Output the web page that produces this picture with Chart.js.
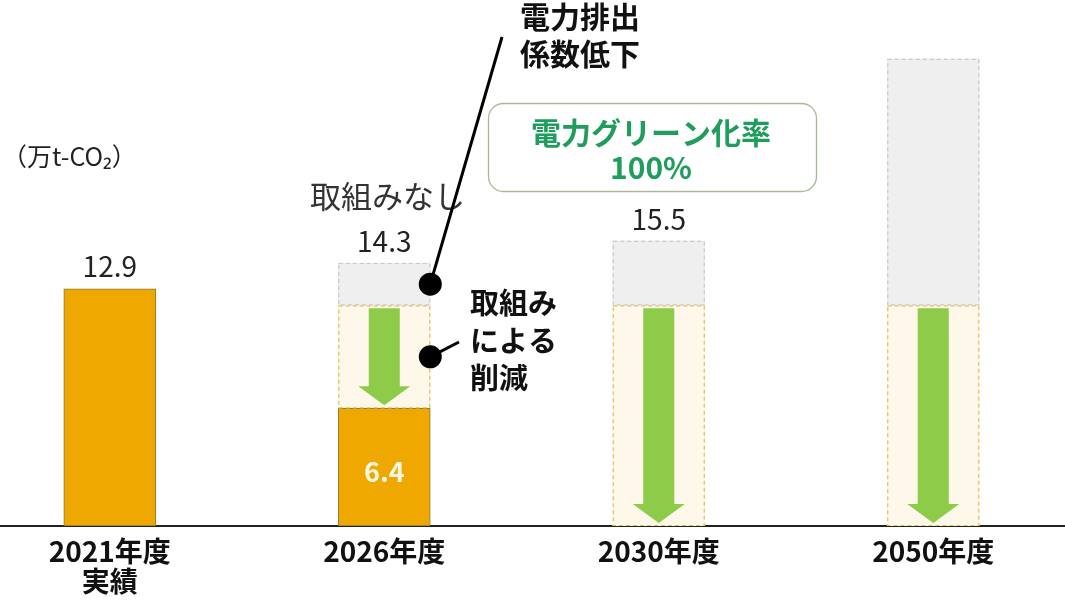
<!DOCTYPE html>
<html lang="ja">
<head>
<meta charset="utf-8">
<title>CO2排出量</title>
<script src="https://cdn.jsdelivr.net/npm/chart.js@4.4.1/dist/chart.umd.min.js"></script>
<style>
  html, body { margin: 0; padding: 0; background: #fff; }
  #wrap { width: 1065px; height: 608px; position: relative; }
</style>
</head>
<body>
<div id="wrap"><canvas id="co2Chart"></canvas></div>
<script>
// ─── Data ──────────────────────────────────────────────────────────────────────
const categoryLabels = [["2021年度", "実績"], "2026年度", "2030年度", "2050年度"];
const actualValues   = [12.9, 6.4, null, null];     // 実績・見込み (orange)
const reductionFrom  = [null, 6.4, 0, 0];           // 取組みによる削減 (dashed box)
const reductionTo    = [null, 12.0, 12.0, 12.0];
const noActionTotal  = [null, 14.3, 15.5, 25.4];    // 取組みなし (grey)
const topLabels      = ["12.9", "14.3", "15.5", ""];
const insideLabels   = ["", "6.4", "", ""];

const FONT = "'Noto Sans CJK JP', 'Noto Sans', sans-serif";

function floating(fromArr, toArr) {
  return toArr.map((v, i) => v == null ? null : { x: i, y: [fromArr[i], v] }).filter(Boolean);
}

// ─── Plugins ───────────────────────────────────────────────────────────────────
const dashedBorders = {
  id: "dashedBorders",
  afterDatasetsDraw(chart) {
    const ctx = chart.ctx;
    chart.data.datasets.forEach((ds, di) => {
      if (!ds.dashColor) return;
      chart.getDatasetMeta(di).data.forEach(bar => {
        const { x, y, base, width } = bar.getProps(["x", "y", "base", "width"], true);
        ctx.save();
        ctx.strokeStyle = ds.dashColor;
        ctx.lineWidth = 1.2;
        ctx.setLineDash([4, 3]);
        ctx.strokeRect(x - width / 2 + 0.5, y + 0.5, width - 1, base - y - 1);
        ctx.restore();
      });
    });
  }
};

const arrows = {
  id: "arrows",
  afterDatasetsDraw(chart) {
    const ctx = chart.ctx;
    const meta = chart.getDatasetMeta(1);
    meta.data.forEach(bar => {
      const { x, y, base } = bar.getProps(["x", "y", "base"], true);
      const top = y + 3, tip = base - 3, head = 19, shaft = 15.5, hw = 26;
      ctx.save();
      ctx.fillStyle = "#8DCB48";
      ctx.beginPath();
      ctx.moveTo(x - shaft, top);
      ctx.lineTo(x + shaft, top);
      ctx.lineTo(x + shaft, tip - head);
      ctx.lineTo(x + hw, tip - head);
      ctx.lineTo(x, tip);
      ctx.lineTo(x - hw, tip - head);
      ctx.lineTo(x - shaft, tip - head);
      ctx.closePath();
      ctx.fill();
      ctx.restore();
    });
  }
};

const annotations = {
  id: "annotations",
  afterDraw(chart) {
    const ctx = chart.ctx;
    const xs = chart.scales.x, ys = chart.scales.y;
    ctx.save();
    ctx.textAlign = "center";
    ctx.textBaseline = "middle";

    // value labels above bars
    ctx.font = `400 28px ${FONT}`;
    ctx.fillStyle = "#222";
    topLabels.forEach((t, i) => {
      if (!t) return;
      const v = noActionTotal[i] != null ? noActionTotal[i] : actualValues[i];
      ctx.fillText(t, xs.getPixelForValue(i), ys.getPixelForValue(v) - 22);
    });
    // value inside orange bar
    ctx.font = `bold 27px ${FONT}`;
    ctx.fillStyle = "#FFF8E6";
    insideLabels.forEach((t, i) => {
      if (!t) return;
      ctx.fillText(t, xs.getPixelForValue(i), (ys.getPixelForValue(actualValues[i]) + ys.getPixelForValue(0)) / 2 + 5);
    });

    // unit
    ctx.textAlign = "left";
    ctx.font = `400 25px ${FONT}`;
    ctx.fillStyle = "#222";
    ctx.fillText("（万t-CO₂）", 2, 156);

    // 取組みなし
    ctx.font = `400 31px ${FONT}`;
    ctx.fillStyle = "#333";
    ctx.fillText("取組みなし", 310, 196);

    // leader lines with dots (2026 bar segments)
    const gBar = chart.getDatasetMeta(2).data[0].getProps(["x", "y", "base", "width"], true);
    const rBar = chart.getDatasetMeta(1).data[0].getProps(["x", "y", "base", "width"], true);
    const d1 = { x: gBar.x + gBar.width / 2, y: (gBar.y + gBar.base) / 2 };
    const d2 = { x: rBar.x + rBar.width / 2, y: (rBar.y + rBar.base) / 2 };
    ctx.strokeStyle = "#000";
    ctx.fillStyle = "#000";
    ctx.lineWidth = 3;
    ctx.beginPath();
    ctx.moveTo(d1.x, d1.y); ctx.lineTo(502, 37);
    ctx.moveTo(d2.x, d2.y); ctx.lineTo(459, 342);
    ctx.stroke();
    [d1, d2].forEach(d => { ctx.beginPath(); ctx.arc(d.x, d.y, 11.5, 0, Math.PI * 2); ctx.fill(); });

    // 電力排出係数低下
    ctx.textAlign = "center";
    ctx.font = `bold 30px ${FONT}`;
    ctx.fillStyle = "#111";
    ctx.fillText("電力排出", 580, 17);
    ctx.fillText("係数低下", 580, 54);

    // 取組みによる削減
    ctx.textAlign = "left";
    ctx.font = `bold 29px ${FONT}`;
    ctx.fillText("取組み", 470, 303);
    ctx.fillText("による", 470, 341);
    ctx.fillText("削減", 470, 378);

    // green box
    ctx.beginPath();
    ctx.roundRect(488.5, 103.5, 328, 88, 15);
    ctx.fillStyle = "#fff";
    ctx.fill();
    ctx.lineWidth = 1.3;
    ctx.strokeStyle = "#A6B896";
    ctx.stroke();
    ctx.textAlign = "center";
    ctx.fillStyle = "#1F9D5C";
    ctx.font = `bold 30px ${FONT}`;
    ctx.fillText("電力グリーン化率", 651, 133);
    ctx.fillText("100%", 651, 168);
    ctx.restore();
  }
};

// ─── Chart ─────────────────────────────────────────────────────────────────────
new Chart(document.getElementById("co2Chart"), {
  type: "bar",
  data: {
    datasets: [
      {
        label: "実績・見込み",
        data: floating(actualValues.map(() => 0), actualValues),
        backgroundColor: "#EFA800",
        borderColor: "#8C7A3C",
        borderWidth: 1,
        borderSkipped: false
      },
      {
        label: "取組みによる削減",
        data: floating(reductionFrom, reductionTo),
        backgroundColor: "#FDF8EA",
        borderWidth: 0,
        dashColor: "#E3BE55"
      },
      {
        label: "取組みなし",
        data: floating(reductionTo, noActionTotal),
        backgroundColor: "#EFEFEF",
        borderWidth: 0,
        dashColor: "#C9C9C9"
      }
    ]
  },
  options: {
    responsive: true,
    maintainAspectRatio: false,
    animation: false,
    grouped: false,
    barThickness: 92,
    layout: { padding: 0 },
    plugins: { legend: { display: false }, tooltip: { enabled: false } },
    scales: {
      x: {
        type: "linear",
        offset: false,
        min: -0.40,
        max: 3.48,
        afterBuildTicks: s => { s.ticks = categoryLabels.map((_, i) => ({ value: i })); },
        afterFit: s => { s.height = 82; },
        grid: { display: false, drawTicks: false },
        border: { display: true, color: "#222", width: 2 },
        ticks: {
          autoSkip: false,
          maxRotation: 0,
          padding: 11,
          color: "#111",
          font: { family: FONT, size: 28, weight: "bold", lineHeight: 1.05 },
          callback: v => categoryLabels[v]
        }
      },
      y: { display: false, min: 0, max: 28.6 }
    }
  },
  plugins: [dashedBorders, arrows, annotations]
});
</script>
</body>
</html>
